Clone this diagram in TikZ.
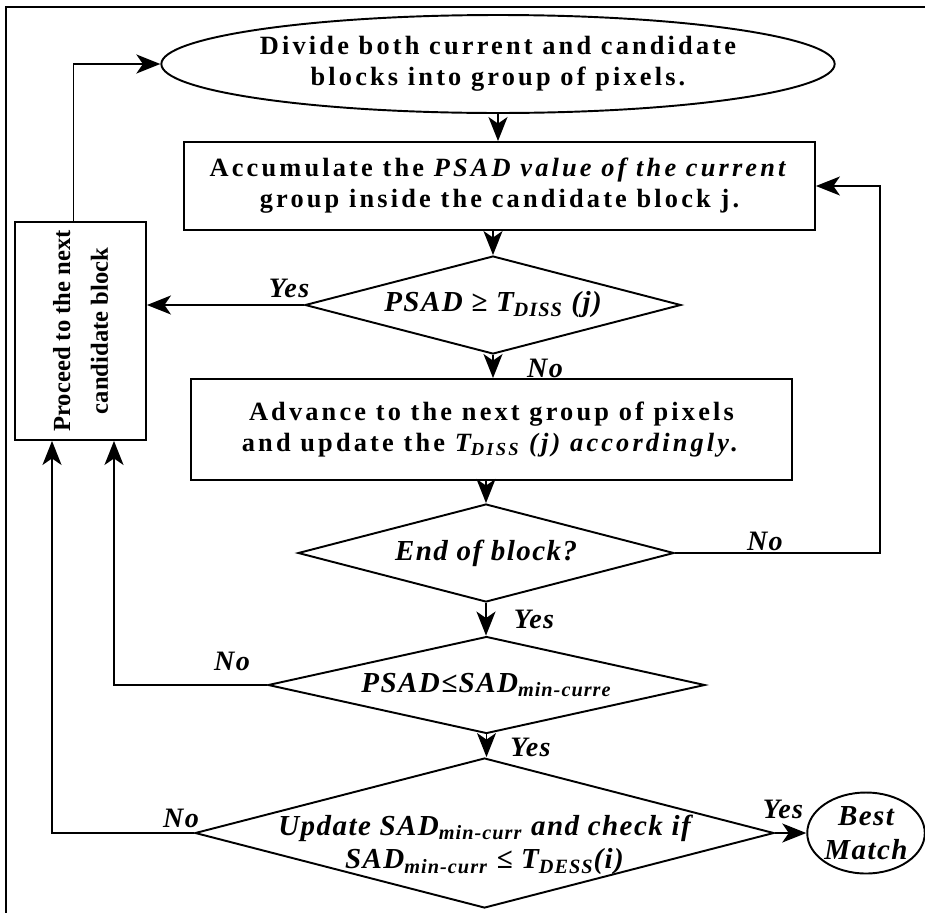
\documentclass[tikz,border=0pt]{standalone}
\usepackage{fontspec}
\setmainfont{Liberation Serif}[LetterSpace=12]
\usetikzlibrary{shapes.geometric, arrows.meta, positioning, calc}

\begin{document}
\begin{tikzpicture}[
    x=0.02cm, y=-0.02cm,
    line width=1.1pt,
    >={Stealth[length=0.48cm, width=0.38cm, inset=0.13cm]},
    every node/.style={font=\fontsize{15}{17.6}\selectfont\bfseries},
    box/.style={draw, rectangle, inner sep=0pt, align=center},
    decision/.style={draw, diamond, inner sep=0pt},
    terminal/.style={draw, ellipse, inner sep=0pt, align=center},
    dtext/.style={font=\fontsize{16.5}{19}\selectfont\bfseries\itshape\addfontfeatures{LetterSpace=5}, align=center},
    answer/.style={font=\fontsize{16}{17.6}\selectfont\bfseries\itshape\addfontfeatures{LetterSpace=5}}
]
    \useasboundingbox (0,0) rectangle (925,913);
    \draw (925,7) -- (6,7) -- (6,913);

    \node[terminal, minimum width=10.48cm, minimum height=1.96cm] (divide) at (498,64)
        {Divide both current and candidate\\blocks into group of pixels.};
    \node[box, minimum width=12.62cm, minimum height=1.76cm] (accum) at (499.5,186)
        {Accumulate the \textit{PSAD value of the current}\\group inside the candidate block j.};
    \node[decision, minimum width=7.52cm, minimum height=1.96cm,
        label={[dtext]center:PSAD ≥ T\textsubscript{DISS} (j)}] (thr) at (493,305) {};
    \node[box, minimum width=12.02cm, minimum height=2.02cm] (advance) at (491.5,429.5)
        {Advance to the next group of pixels\\and update the \textit{T\textsubscript{DISS} (j) accordingly.}};
    \node[decision, minimum width=7.52cm, minimum height=1.96cm,
        label={[dtext]center:End of block?}] (endblk) at (486,553) {};
    \node[decision, minimum width=8.74cm, minimum height=1.94cm,
        label={[dtext]center:PSAD≤SAD\textsubscript{min-curre}}] (cmp) at (486.5,685) {};
    \node[decision, minimum width=11.58cm, minimum height=3.0cm,
        label={[dtext, yshift=-0.24cm]center:{Update SAD\textsubscript{min-curr} and check if\\SAD\textsubscript{min-curr} ≤ T\textsubscript{DESS}(i)}}] (upd) at (484.5,833) {};
    \node[terminal, minimum width=2.2cm, minimum height=1.62cm, dtext] (best) at (866,833) {Best\\Match};
    \node[box, minimum width=2.62cm, minimum height=4.36cm,
        label={[rotate=90, align=center, font=\fontsize{14}{21.5}\selectfont\bfseries\addfontfeatures{LetterSpace=0}]center:{Proceed to the next\\candidate block}}] (next) at (80.5,331) {};

    \draw[->] ([xshift=-0.14cm]next.north) |- (divide.west);
    \draw[->] (divide.south) -- (divide.south |- accum.north);
    \draw[->] (thr.north |- accum.south) -- (thr.north);
    \draw[->] (thr.west) -- (thr.west -| next.east);
    \draw[->] (thr.south) -- (thr.south |- advance.north);
    \draw[->] (endblk.north |- advance.south) -- (endblk.north);
    \draw[->] (endblk.east) -- ++(205,0) |- (accum.east);
    \draw[->] (endblk.south) -- (endblk.south |- cmp.north);
    \draw[->] (cmp.west) -| ([xshift=0.67cm]next.south);
    \draw[->] (cmp.south) -- (cmp.south |- upd.north);
    \draw[->] (upd.west) -| ([xshift=-0.57cm]next.south);
    \draw[->] (upd.east) -- (best.west);

    \node[answer] (yes1) at ($(thr.west)+(-15,-17)$) {Yes};
    \node[answer] (no1) at ($(thr.south)+(52,13)$) {No};
    \node[answer] (no2) at ($(endblk.east)+(90,-12)$) {No};
    \node[answer] (yes2) at ($(endblk.south)+(48,16)$) {Yes};
    \node[answer] (no3) at ($(cmp.west)+(-35,-24)$) {No};
    \node[answer] (yes3) at ($(cmp.south)+(44,13)$) {Yes};
    \node[answer] (no4) at ($(upd.west)+(-13,-15)$) {No};
    \node[answer] (yes4) at ($(upd.east)+(8,-24)$) {Yes};
\end{tikzpicture}
\end{document}
